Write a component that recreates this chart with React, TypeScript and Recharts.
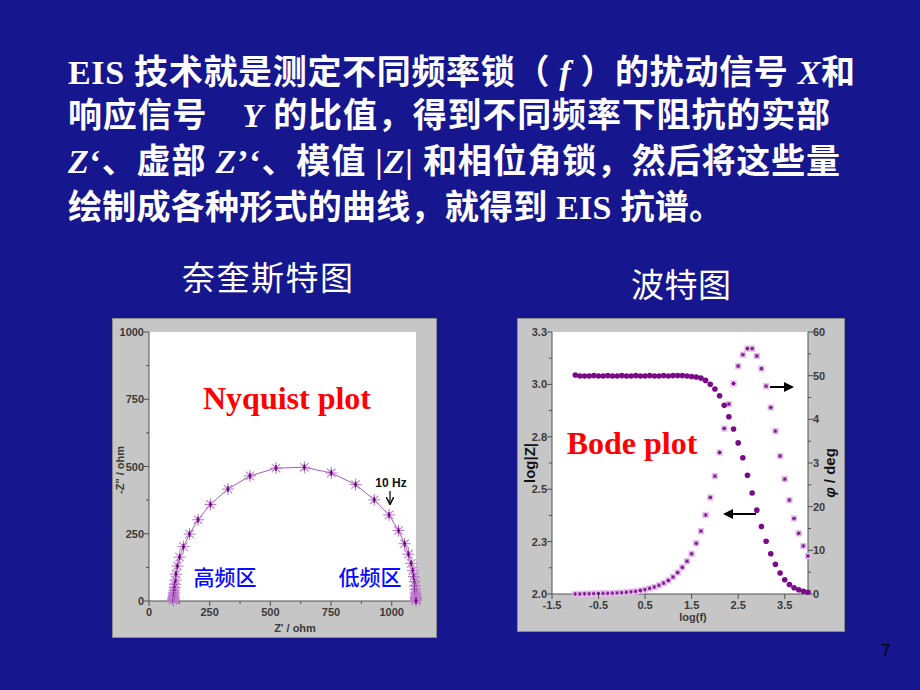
import React from "react";
import { ScatterChart, ComposedChart, Scatter, XAxis, YAxis, CartesianGrid } from "recharts";

// Nyquist plot: Z' / ohm and -Z'' / ohm, high frequency (left) to low frequency (right)
const zReal = [100, 100, 100.5, 101, 101, 102, 102, 103, 104, 105, 107, 109, 111, 117, 126, 142, 167, 202, 253, 325, 416, 523, 640, 751, 851, 928, 989, 1028, 1053, 1069, 1080, 1087, 1091, 1094, 1096, 1097, 1098, 1099, 1099, 1100, 1100, 1100, 1100, 1100];
const zImag = [2, 4, 6, 9, 13, 18, 24, 31, 40, 50, 62, 78, 100, 130, 163, 202, 249, 302, 359, 416, 465, 494, 497, 476, 433, 376, 320, 262, 213, 174, 140, 113, 91, 72, 56, 43, 33, 25, 18, 13, 9, 6, 3, 1];

// Bode plot
const logF = [-1.0, -0.9, -0.8, -0.7, -0.6, -0.5, -0.4, -0.3, -0.2, -0.1, 0.0, 0.1, 0.2, 0.3, 0.4, 0.5, 0.6, 0.7, 0.8, 0.9, 1.0, 1.1, 1.2, 1.3, 1.4, 1.5, 1.6, 1.7, 1.8, 1.9, 2.0, 2.1, 2.2, 2.3, 2.4, 2.5, 2.6, 2.7, 2.8, 2.9, 3.0, 3.1, 3.2, 3.3, 3.4, 3.5, 3.6, 3.7, 3.8, 3.9, 4.0];
const logZ = [3.045, 3.04, 3.04, 3.04, 3.042, 3.04, 3.04, 3.042, 3.04, 3.04, 3.042, 3.04, 3.04, 3.042, 3.04, 3.04, 3.042, 3.04, 3.04, 3.042, 3.04, 3.042, 3.042, 3.042, 3.04, 3.038, 3.035, 3.03, 3.019, 3.001, 2.978, 2.946, 2.9, 2.846, 2.787, 2.721, 2.65, 2.566, 2.482, 2.4, 2.322, 2.252, 2.192, 2.142, 2.1, 2.068, 2.045, 2.03, 2.02, 2.013, 2.008];
const phase = [0.0, 0.0, 0.05, 0.05, 0.1, 0.1, 0.15, 0.15, 0.2, 0.25, 0.3, 0.4, 0.5, 0.6, 0.8, 1.0, 1.3, 1.6, 2.0, 2.5, 3.1, 3.9, 4.9, 6.1, 7.5, 9.2, 11.6, 14.4, 18.1, 22.1, 27.0, 32.4, 37.9, 43.5, 48.2, 52.2, 54.8, 56.2, 56.2, 54.5, 51.6, 47.6, 42.7, 37.3, 31.6, 26.3, 21.5, 17.3, 13.9, 11.0, 8.7];

// ticks
const nyqMajor = [0, 250, 500, 750, 1000];
const nyqMajorLabels = ["0", "250", "500", "750", "1000"];
const nyqMinor = [125, 375, 625, 875];
const bodeXTicks = [-1.5, -0.5, 0.5, 1.5, 2.5, 3.5];
const bodeXLabels = ["-1.5", "-0.5", "0.5", "1.5", "2.5", "3.5"];
const bodeZTicks = [2, 2.25, 2.5, 2.75, 3, 3.25];
const bodeZLabels = ["2.0", "2.3", "2.5", "2.8", "3.0", "3.3"];
const bodeZMinor = [2.125, 2.375, 2.625, 2.875, 3.125];
const bodePTicks = [0, 10, 20, 30, 40, 50, 60];
const bodePLabels = ["0", "10", "20", "3", "4", "50", "60"];
const bodePMinor = [5, 15, 25, 35, 45, 55];

const nyqData = zReal.map((x, i) => ({ x, y: zImag[i] }));
const magData = logF.map((x, i) => ({ x, y: logZ[i] }));
const phaseData = logF.map((x, i) => ({ x, y: phase[i] }));

const AXIS = "#505050";
const tickFont = { fontFamily: "'Liberation Sans', Arial, sans-serif", fontSize: 11, fontWeight: 700, fill: "#3a3a3a" };

function makeTick(side: string, majors: number[], labels: string[]) {
  return (props: any) => {
    const { x, y, payload } = props;
    const i = majors.indexOf(payload.value);
    const len = i >= 0 ? 5 : 3;
    const label = i >= 0 ? labels[i] : "";
    if (side === "bottom")
      return (
        <g>
          <line x1={x} y1={y} x2={x} y2={y + len} stroke={AXIS} />
          <text x={x} y={y + 15} textAnchor="middle" {...tickFont}>{label}</text>
        </g>
      );
    if (side === "left")
      return (
        <g>
          <line x1={x} y1={y} x2={x - len} y2={y} stroke={AXIS} />
          <text x={x - 5} y={y + 4} textAnchor="end" {...tickFont}>{label}</text>
        </g>
      );
    return (
      <g>
        <line x1={x} y1={y} x2={x + len} y2={y} stroke={AXIS} />
        <text x={x + 5} y={y + 4} textAnchor="start" {...tickFont}>{label}</text>
      </g>
    );
  };
}

const Asterisk = (p: any) => {
  const { cx, cy } = p;
  const r = 6;
  const d = 4.2;
  return (
    <g>
      <g stroke="#bf7ccf" strokeWidth={1.1}>
        <line x1={cx - r} y1={cy} x2={cx + r} y2={cy} />
        <line x1={cx} y1={cy - r} x2={cx} y2={cy + r} />
        <line x1={cx - d} y1={cy - d} x2={cx + d} y2={cy + d} />
        <line x1={cx - d} y1={cy + d} x2={cx + d} y2={cy - d} />
      </g>
      <g stroke="#64087a" strokeWidth={1.5}>
        <line x1={cx} y1={cy - 3} x2={cx} y2={cy + 3} />
        <line x1={cx - 1.5} y1={cy} x2={cx + 1.5} y2={cy} />
      </g>
    </g>
  );
};

const SquareStar = (p: any) => {
  const { cx, cy } = p;
  return (
    <g>
      <rect x={cx - 3.2} y={cy - 3.2} width={6.4} height={6.4} fill="#e6c2ec" />
      <g stroke="#7a1689" strokeWidth={1}>
        <line x1={cx - 2} y1={cy} x2={cx + 2} y2={cy} />
        <line x1={cx} y1={cy - 2} x2={cx} y2={cy + 2} />
        <line x1={cx - 1.5} y1={cy - 1.5} x2={cx + 1.5} y2={cy + 1.5} />
        <line x1={cx - 1.5} y1={cy + 1.5} x2={cx + 1.5} y2={cy - 1.5} />
      </g>
    </g>
  );
};

const Dot = (p: any) => <circle cx={p.cx} cy={p.cy} r={2.8} fill="#7a0b86" />;

const panel = (left: number, top: number, width: number, height: number): React.CSSProperties => ({
  position: "absolute",
  left,
  top,
  width,
  height,
  boxSizing: "border-box",
  background: "#c6c6c6",
  border: "1px solid #8a8a8a",
});

const serif = "'Liberation Serif', 'Noto Sans CJK SC', serif";
const cjk = "'Noto Sans CJK SC', sans-serif";
const sans = "'Liberation Sans', Arial, sans-serif";

export default function App() {
  return (
    <div style={{ position: "absolute", left: 0, top: 0, width: 920, height: 690, background: "#16168f", overflow: "hidden" }}>
      <div style={panel(112, 318, 325, 320)} />
      <div style={panel(517, 318, 328, 314)} />

      <div style={{ position: "absolute", left: 112, top: 318 }}>
        <ScatterChart width={325} height={320} margin={{ top: 14, right: 21, bottom: 0, left: 0 }}>
          <CartesianGrid fill="#ffffff" horizontal={false} vertical={false} />
          <XAxis
            type="number"
            dataKey="x"
            domain={[0, 1100]}
            ticks={[...nyqMajor, ...nyqMinor]}
            interval={0}
            height={37}
            tickLine={false}
            tickSize={0}
            tickMargin={0}
            axisLine={{ stroke: AXIS }}
            tick={makeTick("bottom", nyqMajor, nyqMajorLabels)}
          />
          <YAxis
            type="number"
            dataKey="y"
            domain={[0, 1000]}
            ticks={[...nyqMajor, ...nyqMinor]}
            interval={0}
            width={37}
            tickLine={false}
            tickSize={0}
            tickMargin={0}
            axisLine={{ stroke: AXIS }}
            tick={makeTick("left", nyqMajor, nyqMajorLabels)}
          />
          <Scatter data={nyqData} fill="#a95cbb" line lineType="joint" shape={Asterisk} isAnimationActive={false} />
        </ScatterChart>
      </div>

      <div style={{ position: "absolute", left: 517, top: 318 }}>
        <ComposedChart width={328} height={314} margin={{ top: 14, right: 0, bottom: 0, left: 0 }}>
          <CartesianGrid fill="#ffffff" horizontal={false} vertical={false} yAxisId="z" />
          <XAxis
            type="number"
            dataKey="x"
            domain={[-1.5, 4]}
            ticks={bodeXTicks}
            interval={0}
            height={38}
            tickLine={false}
            tickSize={0}
            tickMargin={0}
            axisLine={{ stroke: AXIS }}
            tick={makeTick("bottom", bodeXTicks, bodeXLabels)}
          />
          <YAxis
            yAxisId="z"
            type="number"
            dataKey="y"
            domain={[2, 3.25]}
            ticks={[...bodeZTicks, ...bodeZMinor]}
            interval={0}
            width={35}
            tickLine={false}
            tickSize={0}
            tickMargin={0}
            axisLine={{ stroke: AXIS }}
            tick={makeTick("left", bodeZTicks, bodeZLabels)}
          />
          <YAxis
            yAxisId="p"
            orientation="right"
            type="number"
            dataKey="y"
            domain={[0, 60]}
            ticks={[...bodePTicks, ...bodePMinor]}
            interval={0}
            width={37}
            tickLine={false}
            tickSize={0}
            tickMargin={0}
            axisLine={{ stroke: AXIS }}
            tick={makeTick("right", bodePTicks, bodePLabels)}
          />
          <Scatter yAxisId="p" data={phaseData} fill="#e6c2ec" shape={SquareStar} isAnimationActive={false} />
          <Scatter yAxisId="z" data={magData} fill="#7a0b86" shape={Dot} isAnimationActive={false} />
        </ComposedChart>
      </div>

      <svg width={920} height={690} style={{ position: "absolute", left: 0, top: 0, pointerEvents: "none" }}>
        <defs>
          <marker id="ah" viewBox="0 0 10 10" refX="8" refY="5" markerWidth="5" markerHeight="5" orient="auto">
            <path d="M0,0 L10,5 L0,10 z" fill="#000" />
          </marker>
          <marker id="ahs" viewBox="0 0 10 10" refX="8" refY="5" markerWidth="6" markerHeight="6" orient="auto">
            <path d="M0,0 L10,5 L0,10" fill="none" stroke="#111" strokeWidth={2} />
          </marker>
        </defs>

        <g fill="#ffffff" fontWeight={700} fontSize={34} fontFamily={serif}>
          <text x={68} y={84} textLength={787} lengthAdjust="spacing">
            {"EIS 技术就是测定不同频率锁（ "}
            <tspan fontStyle="italic">f</tspan>
            {" ）的扰动信号 "}
            <tspan fontStyle="italic">X</tspan>
            {"和"}
          </text>
          <text x={68} y={127} textLength={762} lengthAdjust="spacing">
            {"响应信号　"}
            <tspan fontStyle="italic">Y</tspan>
            {" 的比值，得到不同频率下阻抗的实部"}
          </text>
          <text x={68} y={173} textLength={772} lengthAdjust="spacing">
            <tspan fontStyle="italic">Z</tspan>
            {"‘、虚部 "}
            <tspan fontStyle="italic">Z</tspan>
            {"’‘、模值 |"}
            <tspan fontStyle="italic">Z</tspan>
            {"| 和相位角锁，然后将这些量"}
          </text>
          <text x={68} y={219} textLength={655} lengthAdjust="spacing">
            {"绘制成各种形式的曲线，就得到 EIS 抗谱。"}
          </text>
        </g>

        <g fill="#ffffff" fontSize={33} fontFamily={cjk}>
          <text x={182} y={290} textLength={171} lengthAdjust="spacing">奈奎斯特图</text>
          <text x={631} y={297} textLength={100} lengthAdjust="spacing">波特图</text>
        </g>

        {/* Nyquist annotations */}
        <text x={287} y={409} textAnchor="middle" fill="#ff0000" fontFamily={serif} fontWeight={700} fontSize={32}>
          Nyquist plot
        </text>
        <text x={225} y={585} textAnchor="middle" fill="#0a0aff" fontFamily={cjk} fontWeight={500} fontSize={21}>高频区</text>
        <text x={370} y={585} textAnchor="middle" fill="#0a0aff" fontFamily={cjk} fontWeight={500} fontSize={21}>低频区</text>
        <text x={391} y={487} textAnchor="middle" fill="#111" fontFamily={sans} fontWeight={700} fontSize={12}>10 Hz</text>
        <line x1={390} y1={491} x2={390} y2={503} stroke="#111" strokeWidth={1.3} markerEnd="url(#ahs)" />
        <text x={295} y={632} textAnchor="middle" fill="#3a3a3a" fontFamily={sans} fontWeight={700} fontSize={11}>
          Z' / ohm
        </text>
        <text x={0} y={0} transform="translate(124 470) rotate(-90)" textAnchor="middle" fill="#3a3a3a" fontFamily={sans} fontWeight={700} fontSize={11}>
          -Z'' / ohm
        </text>

        {/* Bode annotations */}
        <text x={632} y={454} textAnchor="middle" fill="#ff0000" fontFamily={serif} fontWeight={700} fontSize={32}>
          Bode plot
        </text>
        <line x1={770} y1={387} x2={792} y2={387} stroke="#000" strokeWidth={2} markerEnd="url(#ah)" />
        <line x1={756} y1={514} x2={725} y2={514} stroke="#000" strokeWidth={2} markerEnd="url(#ah)" />
        <text x={693} y={621} textAnchor="middle" fill="#3a3a3a" fontFamily={sans} fontWeight={700} fontSize={11}>
          log(f)
        </text>
        <text x={0} y={0} transform="translate(535 463) rotate(-90)" textAnchor="middle" fill="#111" fontFamily={sans} fontWeight={700} fontSize={15}>
          log|Z|
        </text>
        <text x={0} y={0} transform="translate(835 473) rotate(-90)" textAnchor="middle" fill="#111" fontFamily={sans} fontWeight={700} fontSize={15}>
          <tspan fontStyle="italic">φ</tspan>
          {" / deg"}
        </text>

        <text x={886} y={656} textAnchor="middle" fill="#000" fontFamily={sans} fontSize={16}>7</text>
      </svg>
    </div>
  );
}
